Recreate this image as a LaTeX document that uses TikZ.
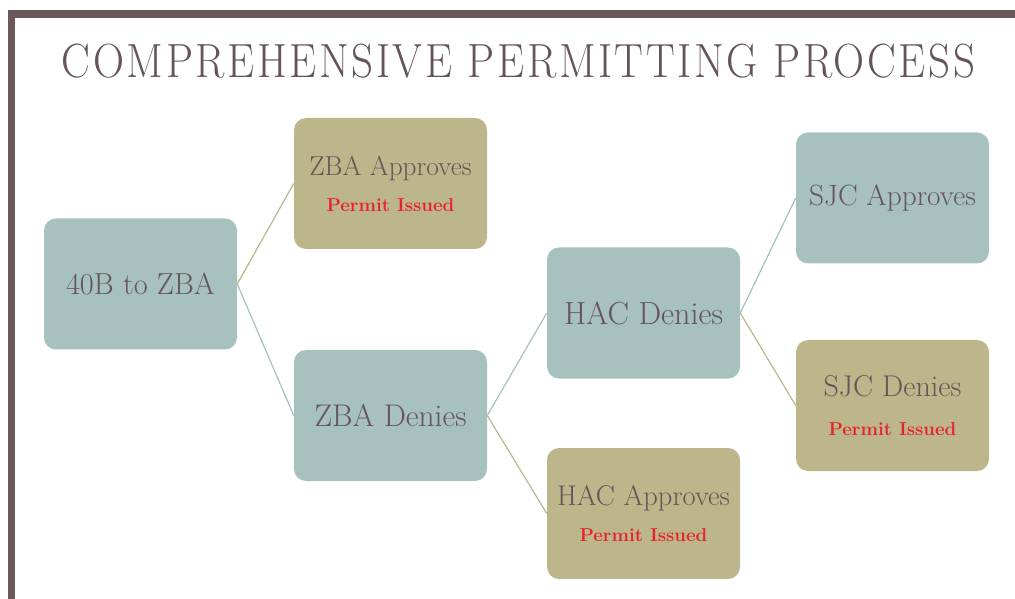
\documentclass[tikz,border=0pt]{standalone}
\usepackage{fontspec}
\setmainfont{Latin Modern Roman}
\definecolor{framec}{HTML}{6B585B}
\definecolor{txtc}{HTML}{655458}
\definecolor{tealc}{HTML}{A7C1BE}
\definecolor{goldc}{HTML}{BDB68A}
\definecolor{redc}{HTML}{E8212B}
\newcommand\permitline{{\fontsize{14}{16}\selectfont\bfseries\color{redc}Permit Issued}}
\begin{document}
\begin{tikzpicture}[x=0.75pt,y=-0.75pt,
  boxbase/.style={rounded corners=9pt,minimum width=144.75pt,minimum height=98.25pt,inner sep=0pt,text=txtc,align=center,font=\fontsize{20.5}{22}\selectfont},
  tealbox/.style={boxbase,fill=tealc},
  goldbox/.style={boxbase,fill=goldc},
  tealline/.style={draw=tealc,line width=0.9pt},
  goldline/.style={draw=goldc,line width=0.9pt}]
\useasboundingbox (0,0) rectangle (1015,599);
\fill[framec] (8,10) rectangle (1015,18);
\fill[framec] (8,10) rectangle (15,599);
\node[text=txtc,font=\fontsize{36}{40}\selectfont\addfontfeatures{LetterSpace=6}] (title) at (518.5,61) {\scalebox{0.897}[1]{COMPREHENSIVE PERMITTING PROCESS}};
\node[tealbox,font=\fontsize{22.8}{26}\selectfont] (root) at (140.5,284) {40B to ZBA};
\node[goldbox] (zbaa) at (390.5,183.5) {ZBA Approves\\[5pt]\permitline};
\node[tealbox,font=\fontsize{23.5}{24}\selectfont] (zbad) at (390.5,415.5) {ZBA Denies};
\node[tealbox,font=\fontsize{24}{24}\selectfont] (hacd) at (643.5,313) {HAC Denies};
\node[goldbox,font=\fontsize{21.4}{22}\selectfont] (haca) at (643.5,513.5) {HAC Approves\\[5pt]\permitline};
\node[tealbox,font=\fontsize{22}{24}\selectfont] (sjca) at (892.5,198) {SJC Approves};
\node[goldbox,font=\fontsize{22.5}{24}\selectfont] (sjcd) at (892.5,405.5) {SJC Denies\\[5pt]\permitline};
\draw[goldline] (root.east) -- (zbaa.west);
\draw[tealline] (root.east) -- (zbad.west);
\draw[tealline] (zbad.east) -- (hacd.west);
\draw[goldline] (zbad.east) -- (haca.west);
\draw[tealline] (hacd.east) -- (sjca.west);
\draw[goldline] (hacd.east) -- (sjcd.west);
\end{tikzpicture}
\end{document}
